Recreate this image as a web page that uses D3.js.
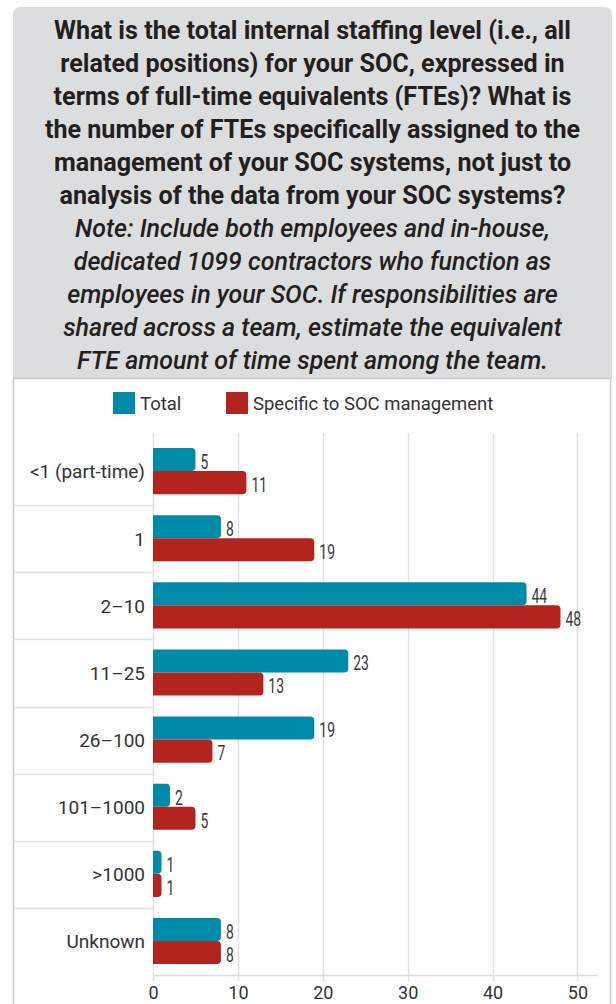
<!DOCTYPE html>
<html><head><meta charset="utf-8">
<script src="https://cdn.jsdelivr.net/npm/d3@7"></script>
<style>
html,body{margin:0;padding:0;background:#fff;}
svg{display:block;}
</style></head>
<body>
<script>
const titleBold = [
  "What is the total internal staffing level (i.e., all",
  "related positions) for your SOC, expressed in",
  "terms of full-time equivalents (FTEs)? What is",
  "the number of FTEs specifically assigned to the",
  "management of your SOC systems, not just to",
  "analysis of the data from your SOC systems?"
];
const titleItalic = [
  "Note: Include both employees and in-house,",
  "dedicated 1099 contractors who function as",
  "employees in your SOC. If responsibilities are",
  "shared across a team, estimate the equivalent",
  "FTE amount of time spent among the team."
];
const categories = ["<1 (part-time)","1","2\u201310","11\u201325","26\u2013100","101\u20131000",">1000","Unknown"];
const seriesNames = ["Total","Specific to SOC management"];
const totalValues = [5,8,44,23,19,2,1,8];
const specificValues = [11,19,48,13,7,5,1,8];
const xTicks = [0,10,20,30,40,50];
const colors = ["#008aa9","#b3241f"];

const W = 616, H = 1004;
const svg = d3.select("body").append("svg").attr("width", W).attr("height", H);
const baseFont = "Roboto, 'Noto Sans', sans-serif";

// title box
const boxL = 13, boxR = 612, boxT = 7, boxB = 378;
svg.append("path")
  .attr("d", `M${boxL},${boxB} L${boxL},${boxT+8} Q${boxL},${boxT} ${boxL+8},${boxT} L${boxR-8},${boxT} Q${boxR},${boxT} ${boxR},${boxT+8} L${boxR},${boxB} Z`)
  .attr("fill", "#dcddde");

const lines = titleBold.map(t => ({t, b:true})).concat(titleItalic.map(t => ({t, b:false})));
const tt = svg.selectAll("text.title").data(lines).join("text")
  .attr("class","title")
  .attr("x", (boxL+boxR)/2)
  .attr("y", (d,i) => 30 + i*33)
  .attr("dy", "0.36em")
  .attr("text-anchor","middle")
  .attr("font-family", baseFont)
  .attr("font-size", 20)
  .attr("font-weight", d => d.b ? 700 : 500)
  .attr("font-style", d => d.b ? "normal" : "italic")
  .attr("fill", "#231f20")
  .text(d => d.t);
// size fonts so reference line widths are matched
const n0 = tt.nodes()[0], n9 = tt.nodes()[9];
const sb = 20 * 517 / n0.getComputedTextLength();
const si = 20 * 499 / n9.getComputedTextLength();
tt.attr("font-size", d => d.b ? sb : si);

// chart panel
const panelL = 13.5, panelR = 610.5, panelT = 378.5;
svg.append("path")
  .attr("d", `M${panelL},${H+2} L${panelL},${panelT} L${panelR},${panelT} L${panelR},${H+2}`)
  .attr("fill","none").attr("stroke","#c8c8c8").attr("stroke-width",1.5);

// legend
const legend = svg.append("g").attr("font-family", baseFont).attr("font-size", 18.5);
const legendX = [113, 226];
seriesNames.forEach((s,i) => {
  legend.append("rect").attr("x", legendX[i]).attr("y", 392).attr("width", 22).attr("height", 22).attr("fill", colors[i]);
  legend.append("text").attr("x", legendX[i]+27).attr("y", 403).attr("dy","0.36em").attr("fill","#333").text(s);
});

// scales
const plotL = 153, plotT = 438, plotB = 975;
const x = d3.scaleLinear().domain([0, 52.3]).range([plotL, 597]);
const y = d3.scaleBand().domain(categories).range([plotT, plotB]).padding(0);
const rowH = y.bandwidth();
const inner = d3.scaleBand().domain(seriesNames).range([10, rowH - 11]).padding(0);

// gridlines
svg.append("g").selectAll("line").data(xTicks).join("line")
  .attr("x1", d => Math.round(x(d))+0.5).attr("x2", d => Math.round(x(d))+0.5)
  .attr("y1", 433).attr("y2", plotB + 6)
  .attr("stroke", "#e1e1e1").attr("stroke-width", 1.5);

// row separators on the left
svg.append("g").selectAll("line").data(categories.slice(1)).join("line")
  .attr("x1", panelL).attr("x2", plotL)
  .attr("y1", d => Math.round(y(d))+0.5).attr("y2", d => Math.round(y(d))+0.5)
  .attr("stroke", "#e1e1e1").attr("stroke-width", 1.5);

// x axis
const xAxis = d3.axisBottom(x).tickValues(xTicks).tickSize(0).tickPadding(11);
const ax = svg.append("g").attr("transform", `translate(0,${plotB})`).call(xAxis);
ax.select(".domain").attr("stroke","#dcdcdc").attr("stroke-width",1.5);
ax.selectAll("text").attr("font-family", baseFont).attr("font-size",18).attr("fill","#333");

// category labels
svg.append("g").selectAll("text").data(categories).join("text")
  .attr("x", 145).attr("y", d => y(d) + rowH/2)
  .attr("dy","0.36em").attr("text-anchor","end")
  .attr("font-family", baseFont).attr("font-size",19).attr("fill","#333")
  .text(d => d);

// bars
const data = [];
categories.forEach((c,i) => {
  data.push({c, s: seriesNames[0], v: totalValues[i], k:0});
  data.push({c, s: seriesNames[1], v: specificValues[i], k:1});
});
function barPath(d){
  const x0 = x(0), x1 = x(d.v), y0 = y(d.c) + inner(d.s), h = inner.bandwidth();
  const r = Math.min(4, (x1-x0)/2);
  return `M${x0},${y0} L${x1-r},${y0} Q${x1},${y0} ${x1},${y0+r} L${x1},${y0+h-r} Q${x1},${y0+h} ${x1-r},${y0+h} L${x0},${y0+h} Z`;
}
svg.append("g").selectAll("path").data(data).join("path")
  .attr("d", barPath).attr("fill", d => colors[d.k]);

// value labels: condensed look via horizontal scaling
const sx = 0.68;
svg.append("g").selectAll("text").data(data).join("text")
  .attr("transform", d => `translate(${x(d.v) + 5},${y(d.c) + inner(d.s) + inner.bandwidth()/2 + 2}) scale(${sx},1)`)
  .attr("dy","0.36em")
  .attr("font-family", baseFont)
  .attr("font-weight", 400)
  .attr("font-size",20.5).attr("fill","#3a3a3a")
  .text(d => d.v);
</script>
</body></html>
